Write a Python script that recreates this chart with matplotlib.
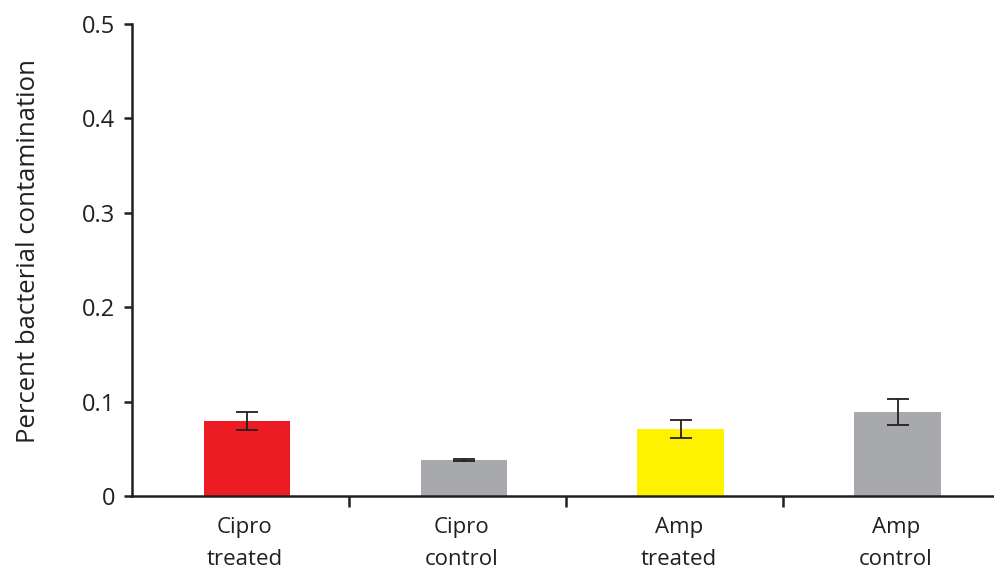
import numpy as np
from matplotlib import pyplot as plt

plt.rcParams['font.family'] = ['Open Sans', 'DejaVu Sans']

categories = ['Cipro\ntreated', 'Cipro\ncontrol', 'Amp\ntreated', 'Amp\ncontrol']
values = [0.079, 0.038, 0.071, 0.089]
errors = [0.0095, 0.001, 0.0098, 0.014]
colors = ['#ED1C24', '#A7A9AC', '#FFF200', '#A7A9AC']
yticks = [0, 0.1, 0.2, 0.3, 0.4, 0.5]
ytick_labels = ['0', '0.1', '0.2', '0.3', '0.4', '0.5']

fig = plt.figure(figsize=(9.94, 5.79), dpi=100)
ax = fig.add_axes([0.1328, 0.1434, 0.873, 0.8151])

x = np.arange(len(categories))
# bars sit a little right of the category centre in the original
ax.bar(x + 0.03, values, width=0.4, color=colors, zorder=2)
ax.errorbar(x + 0.03, values, yerr=errors, fmt='none', ecolor='#231F20',
            elinewidth=1.3, capsize=8, capthick=1.3, zorder=3)

ax.set_xlim(-0.5, 3.5)
ax.set_ylim(0, 0.5)
ax.set_yticks(yticks)
ax.set_yticklabels(ytick_labels)
ax.set_xticks(x + 0.02)
ax.set_xticklabels(categories, linespacing=1.7)
ax.set_xticks(x[:-1] + 0.5, minor=True)

ax.tick_params(axis='x', which='major', length=0, pad=15, labelsize=16, colors='#231F20')
ax.tick_params(axis='x', which='minor', length=8, width=1.8, direction='out', color='#231F20')
ax.tick_params(axis='y', length=6, width=1.8, direction='out', labelsize=17,
               color='#231F20', labelcolor='#231F20', pad=6)

for side in ['top', 'right']:
    ax.spines[side].set_visible(False)
for side in ['left', 'bottom']:
    ax.spines[side].set_linewidth(1.8)
    ax.spines[side].set_color('#231F20')

ax.set_ylabel('Percent bacterial contamination', fontsize=18.5, color='#231F20')
ax.yaxis.set_label_coords(-0.105, 0.52)

fig.savefig('out.png', dpi=100)
